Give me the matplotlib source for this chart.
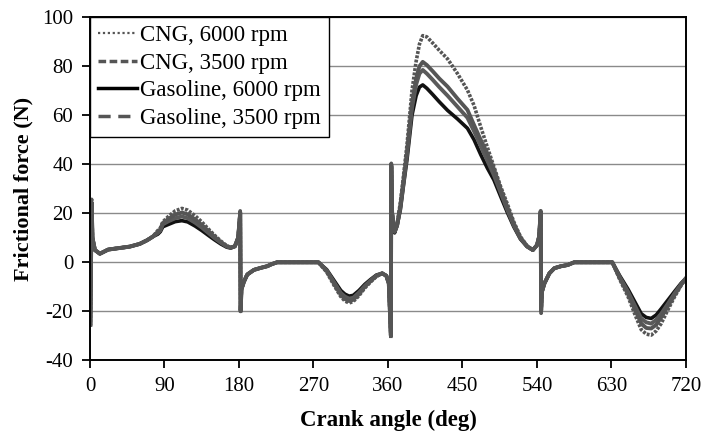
import matplotlib
matplotlib.use("Agg")
import matplotlib.pyplot as plt
from matplotlib.lines import Line2D

plt.rcParams['font.family'] = ['Liberation Serif', 'DejaVu Serif']
plt.rcParams['axes.unicode_minus'] = False

angles = [0.5, 2, 3, 6, 12, 22, 35, 48, 60, 69, 76, 82, 85, 88, 95, 103, 111, 118, 127, 135,
          143, 150, 158, 165, 170, 175, 179, 181.5, 182, 183, 186, 190, 198, 206, 214, 220, 226,
          240, 260, 276, 286, 295, 303, 308, 313, 318, 325, 332, 339, 346, 353, 358, 361, 363.5,
          364, 365, 368, 371, 375, 379, 383, 389, 394, 398, 402, 407, 414, 422, 432, 444, 456,
          464, 472, 480, 488, 496, 504, 512, 520, 528, 535, 540, 542.6, 544.5, 545, 546, 549,
          555, 561, 569, 577, 585, 600, 620, 631, 640, 650, 658, 666, 672, 678, 684, 690, 698,
          706, 714, 720]

gas_6000 = [-25, 24, 10, 5, 3.5, 5.2, 5.8, 6.4, 7.5, 9, 10.5, 11.5, 12.5, 14.5, 15.5, 16.6, 17, 16.5, 14.8, 13,
            11, 9.3, 7.5, 6.2, 5.8, 6.5, 10, 20, -19.5, -11, -7.9, -5, -3.1, -2.3, -1.6, -0.7, 0,
            0, 0, 0, -3, -7.5, -11.5, -13, -13.8, -13.5, -11.5, -9, -7, -5.2, -4.5, -5.5, -8.6, -29,
            39, 20, 12, 15, 21.5, 32, 42, 60, 68, 71.5, 72.4, 71, 68.5, 65.5, 62, 58.5, 54.7,
            50, 44, 38.5, 33.6, 27, 20.5, 14.5, 9.5, 6.4, 5, 7, 10.5, 20.5, -19.5, -12, -8.6,
            -4.5, -2.4, -1.6, -1.1, 0, 0, 0, 0, -5.5, -11, -16, -21, -22.5, -22.9, -21.5, -19, -15.5,
            -12, -8.6, -6.5]

gas_3500 = [-25, 24, 10, 5, 3.5, 5.2, 5.8, 6.4, 7.5, 9, 10.5, 12, 13, 15.5, 16.8, 18, 18.7, 18, 16.2, 14.2,
            12, 10, 8, 6.5, 6, 6.5, 10, 20, -19.5, -11, -7.9, -5, -3.1, -2.3, -1.6, -0.7, 0,
            0, 0, 0, -3.3, -8.2, -12.5, -14, -14.8, -14.5, -12.3, -9.6, -7.4, -5.4, -4.5, -5.5, -8.6, -29.5,
            39.5, 20, 12.5, 15, 22.5, 33, 44, 63, 72.5, 77, 78.5, 77, 74.5, 71.5, 68, 63.5, 59,
            53.5, 47.5, 41.5, 35.5, 28.5, 21.5, 15, 9.8, 6.5, 5, 7, 10.5, 20.5, -19.5, -12, -8.6,
            -4.5, -2.4, -1.6, -1.1, 0, 0, 0, 0, -6, -12, -17.5, -23, -24.5, -25, -23.5, -21, -17,
            -12.8, -9, -6.5]

cng_3500 = [-25.5, 24.5, 10, 5, 3.5, 5.2, 5.8, 6.4, 7.5, 9, 10.5, 12.5, 13.5, 16, 17.8, 19.5, 20.3, 19.6, 17.5, 15.3,
            12.8, 10.6, 8.3, 6.6, 6, 6.5, 10, 20.5, -20, -11, -7.9, -5, -3.1, -2.3, -1.6, -0.7, 0,
            0, 0, 0, -3.6, -8.8, -13.3, -15, -15.8, -15.3, -13, -10, -7.7, -5.6, -4.5, -5.5, -8.6, -30,
            40, 20, 12.5, 15, 23, 34, 45, 65, 75, 80, 81.8, 80.5, 78, 75, 71.7, 66.8, 62.2,
            56, 50, 44.5, 38, 30, 22.7, 15.8, 10, 6.6, 5, 7, 10.5, 21, -20, -12, -8.6,
            -4.5, -2.4, -1.6, -1.1, 0, 0, 0, 0, -6.5, -13, -19, -25, -26.8, -27, -25.5, -22.5, -18,
            -13.5, -9.2, -6.5]

cng_6000 = [-26.3, 25.7, 10, 5, 3.5, 5.2, 5.8, 6.4, 7.5, 9, 10.5, 13, 14, 16.5, 18.8, 21, 22, 21.3, 19, 16.5,
            13.6, 11.2, 8.7, 6.8, 6.1, 6.5, 10, 21, -20.7, -11, -7.9, -5, -3.1, -2.3, -1.6, -0.7, 0,
            0, 0, 0, -4, -9.5, -14, -15.8, -16.6, -16, -13.6, -10.5, -8, -5.8, -4.5, -5.5, -8.6, -31,
            40.4, 20, 13, 15.5, 24.5, 36, 48, 70, 82, 89, 92.5, 92, 89.5, 86.5, 83, 77, 70.3,
            64, 55.3, 47, 39, 31, 24, 16.5, 10.5, 6.7, 5, 7, 10.5, 21.3, -20.8, -12, -8.6,
            -4.5, -2.4, -1.6, -1.1, 0, 0, 0, 0, -7, -14, -21, -27.5, -29.3, -29.7, -28, -25, -19.5,
            -14.2, -9.5, -6.5]

labels = ['CNG, 6000 rpm', 'CNG, 3500 rpm', 'Gasoline, 6000 rpm', 'Gasoline, 3500 rpm']
x_ticks = [0, 90, 180, 270, 360, 450, 540, 630, 720]
y_ticks = [-40, -20, 0, 20, 40, 60, 80, 100]

fig = plt.figure(figsize=(7.04, 4.42), dpi=100)
ax = fig.add_axes([0.1278, 0.1848, 0.8466, 0.7761])

ax.plot(angles, gas_6000, color='#111111', lw=2.6, ls='-')
ax.plot(angles, gas_3500, color='#5a5a5a', lw=2.8, ls='-')
ax.plot(angles, cng_3500, color='#555555', lw=2.8, ls='-')
ax.plot(angles, cng_6000, color='#555555', lw=2.6, ls=(0, (0.8, 0.4)))

ax.set_xlim(0, 720)
ax.set_ylim(-40, 100)
ax.set_xticks(x_ticks)
ax.set_yticks(y_ticks)
ax.yaxis.grid(True, color='#8a8a8a', lw=1.0)
ax.set_axisbelow(True)
ax.tick_params(direction='out', length=6, width=1.3, labelsize=15, colors='black', pad=6)
for s in ax.spines.values():
    s.set_linewidth(1.4)
    s.set_color('black')

ax.set_xlabel('Crank angle (deg)', fontsize=16.5, fontweight='bold', labelpad=10)
ax.set_ylabel('Frictional force (N)', fontsize=16, fontweight='bold', labelpad=6)

handles = [
    Line2D([], [], color='#555555', lw=1.6, ls=(0, (1, 1.2))),
    Line2D([], [], color='#555555', lw=2.5, ls=(0, (2.2, 1.0))),
    Line2D([], [], color='black', lw=2.5, ls='-'),
    Line2D([], [], color='#555555', lw=2.5, ls=(0, (3.5, 2.2))),
]
leg = ax.legend(handles, labels, loc='upper left', borderaxespad=0, fontsize=16.5,
                frameon=True, fancybox=False, edgecolor='black', framealpha=1,
                handlelength=1.7, handletextpad=0.15, labelspacing=0.28, borderpad=0.35)
leg.get_frame().set_linewidth(1.0)

fig.savefig('out.png', dpi=100)
